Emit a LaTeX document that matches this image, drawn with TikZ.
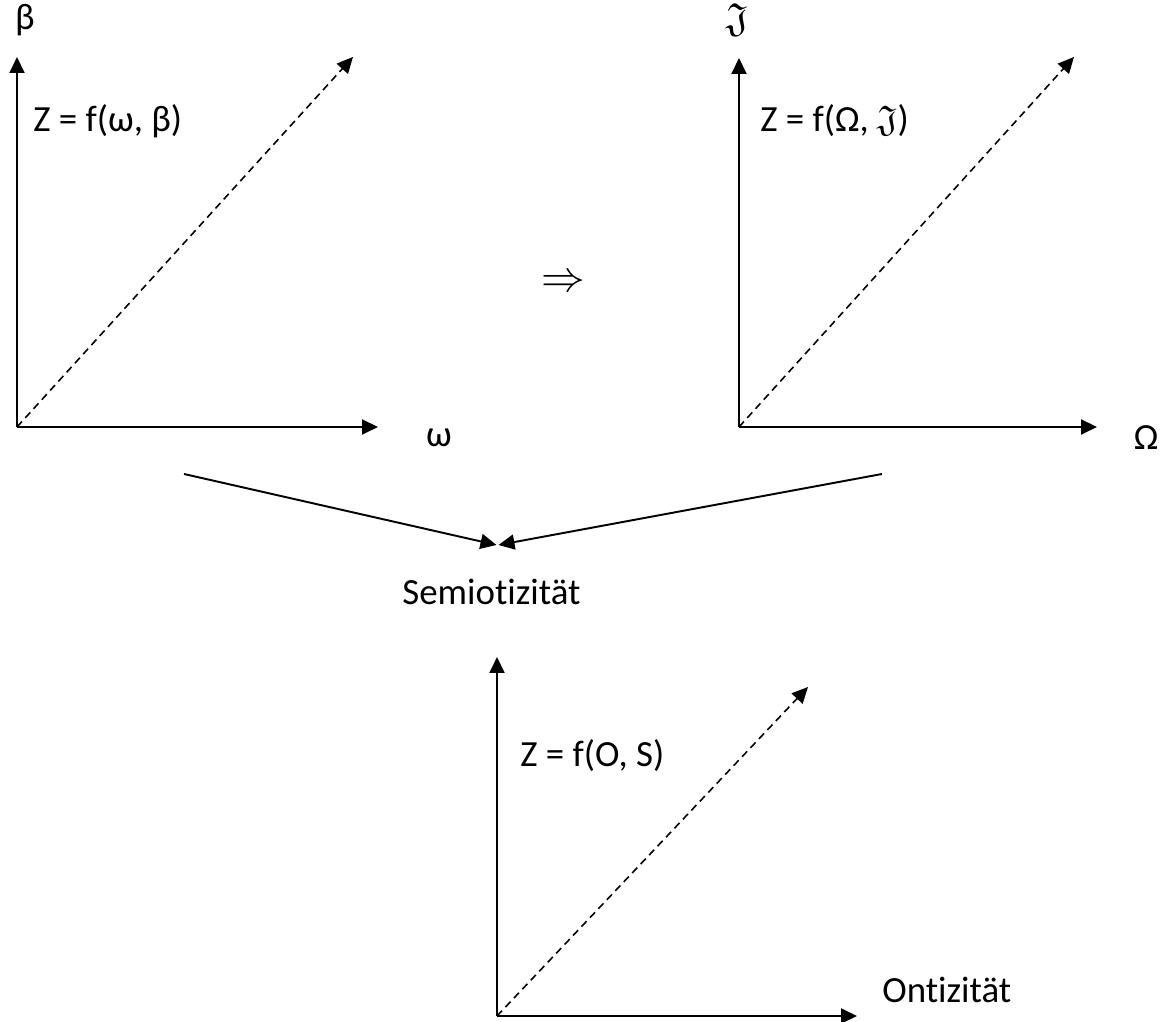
\documentclass[tikz,border=0pt]{standalone}
\usepackage{amssymb}
\usepackage{fontspec}
\setmainfont[RawFeature=-liga]{Carlito}
\usetikzlibrary{arrows.meta}
\tikzset{
  axis/.style={-{Triangle[length=0.32cm,width=0.3cm]}, line width=1.1pt},
  diag/.style={-{Triangle[length=0.32cm,width=0.3cm]}, line width=0.9pt, dash pattern=on 4.2pt off 2.8pt},
  conv/.style={-{Triangle[length=0.32cm,width=0.3cm]}, line width=1.1pt},
  lbl/.style={inner sep=0pt},
}
\begin{document}
\begin{tikzpicture}[font=\fontsize{21}{25}\selectfont]
	\useasboundingbox (0,0) rectangle (23.24,20.44);
	% Links
	\coordinate (oL) at (0.34,11.90);
	\coordinate (yL) at (0.34,19.30);
	\coordinate (xL) at (7.56,11.90);
	\coordinate (dL) at (7.06,19.30);
	\draw[axis] (oL) -- (yL);
	\draw[axis] (oL) -- (xL);
	\draw[diag] (oL) -- (dL);
	\node[lbl] (beta) at (0.50,20.04) {β};
	\node[lbl] (omega) at (8.78,11.68) {ω};
	\node[lbl, anchor=west] (zL) at (0.66,18.02) {Z = f(ω, β)};
	% Rechts
	\coordinate (oR) at (14.78,11.90);
	\coordinate (yR) at (14.78,19.28);
	\coordinate (xR) at (21.94,11.90);
	\coordinate (dR) at (21.48,19.30);
	\draw[axis] (oR) -- (yR);
	\draw[axis] (oR) -- (xR);
	\draw[diag] (oR) -- (dR);
	\node[lbl] (frakJ) at (14.74,20.04) {\fontsize{23}{23}\selectfont$\mathfrak{J}$};
	\node[lbl] (Omega) at (22.92,11.68) {Ω};
	\node[lbl, anchor=west] (zR) at (15.20,18.02) {Z = f(Ω, $\mathfrak{J}$)};
	\node[lbl] (impl) at (11.26,14.78) {\fontsize{28}{28}\selectfont$\Rightarrow$};
	% Semiotizitaet
	\coordinate (cL) at (3.68,10.96);
	\coordinate (cR) at (17.64,10.96);
	\coordinate (mL) at (9.93,9.54);
	\coordinate (mR) at (9.97,9.54);
	\draw[conv] (cL) -- (mL);
	\draw[conv] (cR) -- (mR);
	\node[lbl, anchor=base west] (semio) at (8.04,8.34) {Semiotizität};
	% Unten
	\coordinate (oB) at (9.94,0.12);
	\coordinate (yB) at (9.94,7.30);
	\coordinate (xB) at (17.14,0.12);
	\coordinate (dB) at (16.16,6.70);
	\draw[axis] (oB) -- (yB);
	\draw[axis] (oB) -- (xB);
	\draw[diag] (oB) -- (dB);
	\node[lbl, anchor=west] (zB) at (10.40,5.32) {Z = f(O, S)};
	\node[lbl, anchor=west] (onti) at (17.64,0.64) {Ontizität};
\end{tikzpicture}
\end{document}
